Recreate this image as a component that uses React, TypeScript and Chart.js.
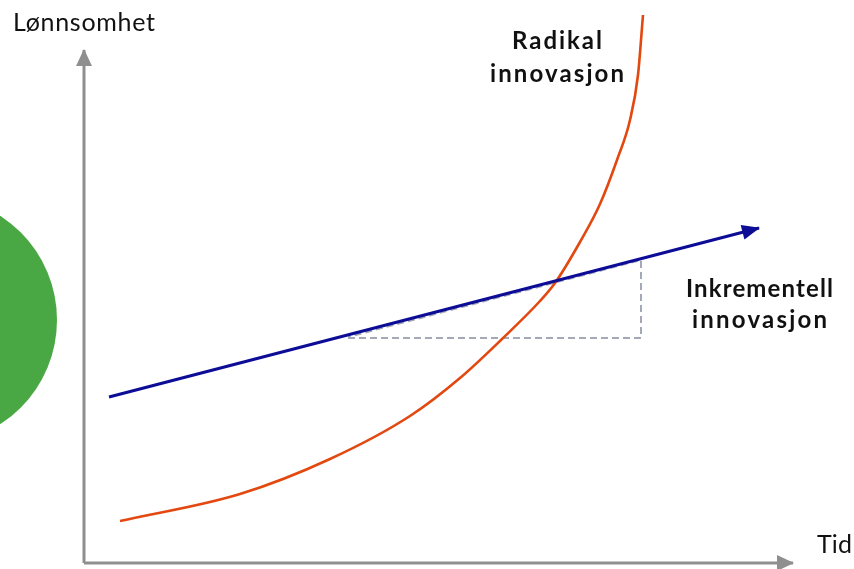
import React, { useEffect, useRef } from "react";
import { Chart, registerables } from "chart.js";

Chart.register(...registerables);

// Values in diagram units (x = tid, y = lønnsomhet), origin at the axis corner
const timeAxisX = [0, 709];
const timeAxisY = [0, 0];
const profitAxisX = [0, 0];
const profitAxisY = [0, 513];

const incrementalX = [25, 675];
const incrementalY = [166, 335];

const radicalX = [36, 156, 246, 326, 376, 418, 456, 471, 496, 516, 533, 546, 554, 559];
const radicalY = [42, 69, 104, 147, 185, 224, 262, 280, 321, 359, 403, 443, 488, 548];

const triangleX = [264, 557, 557, 264];
const triangleY = [225, 225, 303, 226];

const circleX = [-151];
const circleY = [243];
const circleR = [124];

const axisTitles = ["Lønnsomhet", "Tid"];
const radicalLabel = ["Radikal", "innovasjon"];
const incrementalLabel = ["Inkrementell", "innovasjon"];

const toPts = (xs: number[], ys: number[]) => xs.map((x, i) => ({ x, y: ys[i] }));

type TextSpec = {
  lines: string[];
  x: number;
  y: number;
  align: "left" | "center";
  bold: boolean;
  size: number;
  lineGap: number;
  widths: number[];
};

const textSpecs: TextSpec[] = [
  { lines: [axisTitles[0]], x: -71, y: 532, align: "left", bold: false, size: 25, lineGap: 0, widths: [142] },
  { lines: [axisTitles[1]], x: 733, y: 10, align: "left", bold: false, size: 25, lineGap: 0, widths: [35] },
  { lines: radicalLabel, x: 473, y: 514, align: "center", bold: true, size: 24, lineGap: 33, widths: [90, 134] },
  { lines: incrementalLabel, x: 675.5, y: 266, align: "center", bold: true, size: 24, lineGap: 31, widths: [147, 135] },
];

const arrowPlugin = {
  id: "arrowHeads",
  afterDatasetsDraw(chart: any) {
    const ctx = chart.ctx;
    chart.data.datasets.forEach((ds: any, i: number) => {
      if (!ds.arrow) return;
      const meta = chart.getDatasetMeta(i);
      const pts = meta.data;
      if (pts.length < 2) return;
      const a = pts[pts.length - 2];
      const b = pts[pts.length - 1];
      const dx = b.x - a.x;
      const dy = b.y - a.y;
      const len = Math.hypot(dx, dy);
      const ux = dx / len;
      const uy = dy / len;
      const L = ds.arrow.length;
      const hw = ds.arrow.width / 2;
      const bx = b.x - ux * L;
      const by = b.y - uy * L;
      ctx.save();
      ctx.fillStyle = ds.borderColor;
      ctx.beginPath();
      ctx.moveTo(b.x + ux * 1, b.y + uy * 1);
      ctx.lineTo(bx - uy * hw, by + ux * hw);
      ctx.lineTo(bx + uy * hw, by - ux * hw);
      ctx.closePath();
      ctx.fill();
      ctx.restore();
    });
  },
};

const textPlugin = {
  id: "diagramText",
  afterDatasetsDraw(chart: any) {
    const ctx = chart.ctx;
    const xs = chart.scales.x;
    const ys = chart.scales.y;
    ctx.save();
    ctx.fillStyle = "#111111";
    ctx.textBaseline = "alphabetic";
    ctx.textAlign = "left";
    textSpecs.forEach((t) => {
      const px = xs.getPixelForValue(t.x);
      const py = ys.getPixelForValue(t.y);
      ctx.font = `${t.bold ? "bold " : ""}${t.size}px Lato, "Noto Sans", sans-serif`;
      t.lines.forEach((line, li) => {
        (ctx as any).letterSpacing = "0px";
        const w0 = ctx.measureText(line).width;
        const target = t.widths[li];
        const ls = line.length > 1 ? (target - w0) / (line.length - 1) : 0;
        (ctx as any).letterSpacing = `${ls}px`;
        const left = t.align === "center" ? px - target / 2 : px;
        ctx.fillText(line, left, py + li * t.lineGap);
      });
    });
    (ctx as any).letterSpacing = "0px";
    ctx.restore();
  },
};

export default function App() {
  const ref = useRef<HTMLCanvasElement | null>(null);
  useEffect(() => {
    if (!ref.current) return;
    const chart = new Chart(ref.current, {
      type: "scatter",
      data: {
        datasets: [
          {
            label: "Inkrementell innovasjon",
            data: toPts(incrementalX, incrementalY),
            showLine: true,
            borderColor: "#0c0c96",
            borderWidth: 3,
            pointRadius: 0,
            arrow: { length: 17, width: 15 },
          } as any,
          {
            label: "Radikal innovasjon",
            data: toPts(radicalX, radicalY),
            showLine: true,
            borderColor: "#e2480f",
            borderWidth: 2.6,
            pointRadius: 0,
            cubicInterpolationMode: "monotone",
          },
          {
            label: "Trekant",
            data: toPts(triangleX, triangleY),
            showLine: true,
            borderColor: "#a4a9b8",
            borderWidth: 2,
            borderDash: [7, 4],
            pointRadius: 0,
          },
          {
            label: "Lønnsomhet",
            data: toPts(profitAxisX, profitAxisY),
            showLine: true,
            borderColor: "#8f8f8f",
            borderWidth: 3,
            pointRadius: 0,
            arrow: { length: 16, width: 16 },
          } as any,
          {
            label: "Tid",
            data: toPts(timeAxisX, timeAxisY),
            showLine: true,
            borderColor: "#8f8f8f",
            borderWidth: 3,
            pointRadius: 0,
            arrow: { length: 16, width: 16 },
          } as any,
          {
            type: "bubble",
            label: "Sirkel",
            data: circleX.map((x, i) => ({ x, y: circleY[i], r: circleR[i] })),
            backgroundColor: "#4aa844",
            borderWidth: 0,
          } as any,
        ],
      },
      options: {
        animation: false,
        responsive: false,
        devicePixelRatio: 1,
        layout: { padding: 0, autoPadding: false },
        events: [],
        plugins: { legend: { display: false }, tooltip: { enabled: false } },
        scales: {
          x: { type: "linear", min: -84, max: 770, display: false },
          y: { type: "linear", min: -6, max: 563, display: false },
        },
      },
      plugins: [arrowPlugin, textPlugin],
    });
    return () => chart.destroy();
  }, []);
  return (
    <div style={{ position: "fixed", left: 0, top: 0, width: 854, height: 569, background: "#ffffff" }}>
      <canvas ref={ref} width={854} height={569} style={{ display: "block" }} />
    </div>
  );
}
